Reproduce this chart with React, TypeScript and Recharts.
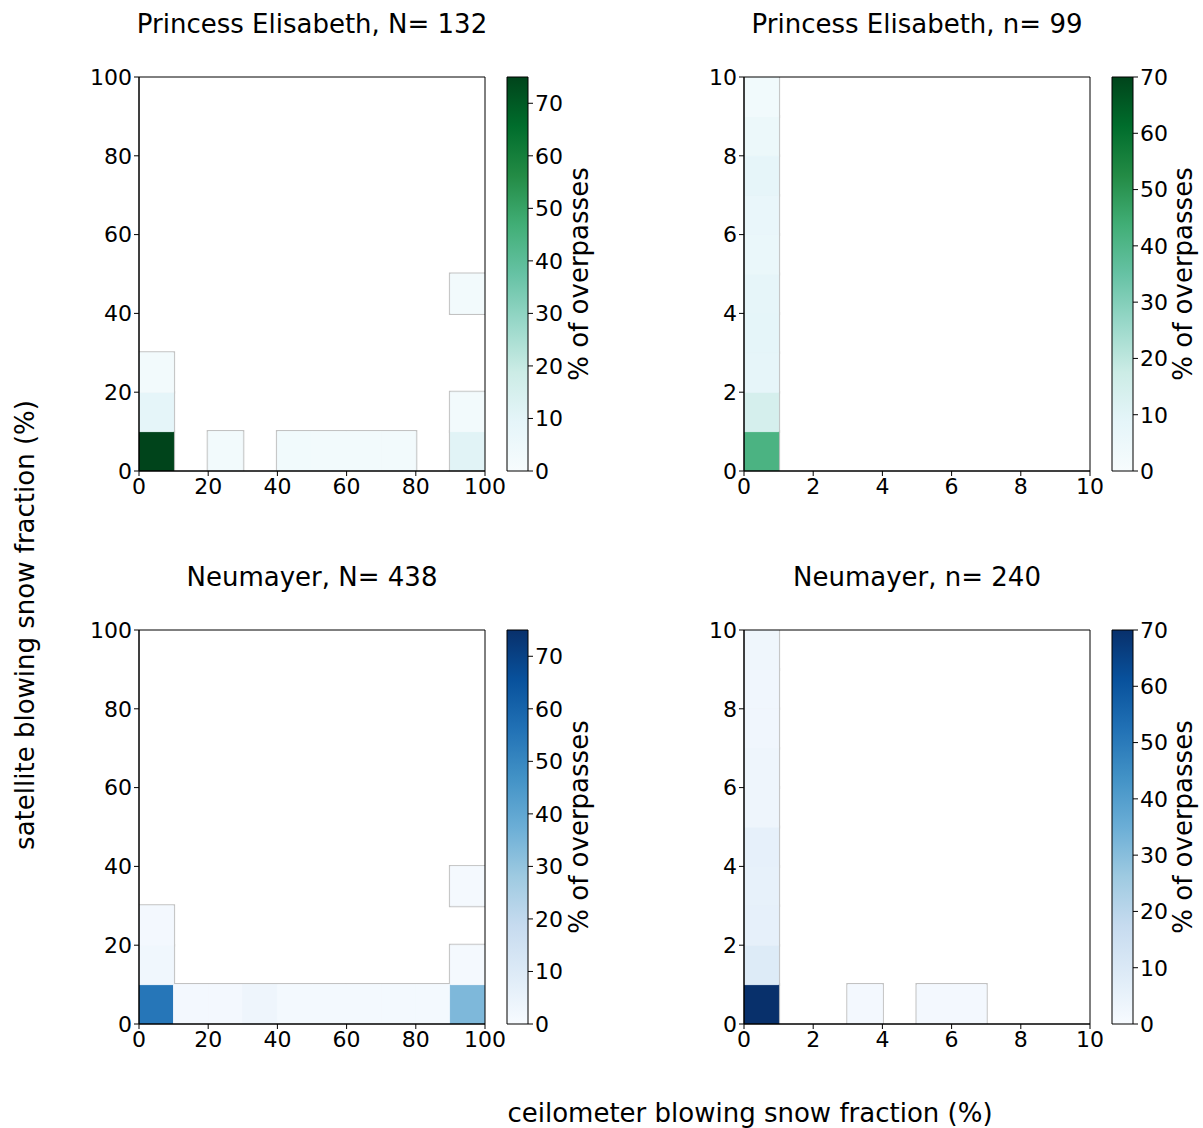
import React from 'react';
import { ComposedChart, XAxis, YAxis, ReferenceArea } from 'recharts';

// Colour ramps (ColorBrewer BuGn and Blues, 9 classes)
const BUGN = ['#f7fcfd', '#e5f5f9', '#ccece6', '#99d8c9', '#66c2a4', '#41ae76', '#238b45', '#006d2c', '#00441b'];
const BLUES = ['#f7fbff', '#deebf7', '#c6dbef', '#9ecae1', '#6baed6', '#4292c6', '#2171b5', '#08519c', '#08306b'];

// Axis ticks
const FULL_TICKS = [0, 20, 40, 60, 80, 100];
const ZOOM_TICKS = [0, 2, 4, 6, 8, 10];
const CBAR_TICKS = [0, 10, 20, 30, 40, 50, 60, 70];

// Histogram cells: lower-left corner (ceilometer, satellite) and % of overpasses
const peFullCells = [
  { ceil: 0, sat: 0, pct: 75.0 },
  { ceil: 0, sat: 10, pct: 9.4 },
  { ceil: 0, sat: 20, pct: 2.7 },
  { ceil: 20, sat: 0, pct: 2.8 },
  { ceil: 40, sat: 0, pct: 3.2 },
  { ceil: 50, sat: 0, pct: 2.8 },
  { ceil: 60, sat: 0, pct: 2.5 },
  { ceil: 70, sat: 0, pct: 2.5 },
  { ceil: 90, sat: 0, pct: 11.0 },
  { ceil: 90, sat: 10, pct: 2.8 },
  { ceil: 90, sat: 40, pct: 2.8 },
];

const peZoomCells = [
  { ceil: 0, sat: 0, pct: 41.4 },
  { ceil: 0, sat: 1, pct: 14.5 },
  { ceil: 0, sat: 2, pct: 8.5 },
  { ceil: 0, sat: 3, pct: 8.8 },
  { ceil: 0, sat: 4, pct: 8.5 },
  { ceil: 0, sat: 5, pct: 6.5 },
  { ceil: 0, sat: 6, pct: 7.0 },
  { ceil: 0, sat: 7, pct: 8.5 },
  { ceil: 0, sat: 8, pct: 5.5 },
  { ceil: 0, sat: 9, pct: 3.0 },
];

const neFullCells = [
  { ceil: 0, sat: 0, pct: 54.8 },
  { ceil: 0, sat: 10, pct: 2.6 },
  { ceil: 0, sat: 20, pct: 1.5 },
  { ceil: 10, sat: 0, pct: 1.5 },
  { ceil: 20, sat: 0, pct: 1.6 },
  { ceil: 30, sat: 0, pct: 3.4 },
  { ceil: 40, sat: 0, pct: 1.4 },
  { ceil: 50, sat: 0, pct: 1.4 },
  { ceil: 60, sat: 0, pct: 1.4 },
  { ceil: 70, sat: 0, pct: 1.4 },
  { ceil: 80, sat: 0, pct: 1.4 },
  { ceil: 90, sat: 0, pct: 34.0 },
  { ceil: 90, sat: 10, pct: 1.0 },
  { ceil: 90, sat: 30, pct: 1.0 },
];

const neZoomCells = [
  { ceil: 0, sat: 0, pct: 70.0 },
  { ceil: 0, sat: 1, pct: 9.0 },
  { ceil: 0, sat: 2, pct: 6.0 },
  { ceil: 0, sat: 3, pct: 5.5 },
  { ceil: 0, sat: 4, pct: 6.0 },
  { ceil: 0, sat: 5, pct: 3.2 },
  { ceil: 0, sat: 6, pct: 3.2 },
  { ceil: 0, sat: 7, pct: 2.5 },
  { ceil: 0, sat: 8, pct: 2.5 },
  { ceil: 0, sat: 9, pct: 2.8 },
  { ceil: 3, sat: 0, pct: 1.4 },
  { ceil: 5, sat: 0, pct: 1.4 },
  { ceil: 6, sat: 0, pct: 1.4 },
];

const TITLES = [
  'Princess Elisabeth, N= 132',
  'Princess Elisabeth, n= 99',
  'Neumayer, N= 438',
  'Neumayer, n= 240',
];

const X_LABEL = 'ceilometer blowing snow fraction (%)';
const Y_LABEL = 'satellite blowing snow fraction (%)';
const CBAR_LABEL = '% of overpasses';

const FONT = "'DejaVu Sans', sans-serif";

type Cell = { ceil: number; sat: number; pct: number };

function hexToRgb(h: string) {
  const n = parseInt(h.slice(1), 16);
  return [(n >> 16) & 255, (n >> 8) & 255, n & 255];
}

function colorAt(stops: string[], t: number) {
  const c = Math.max(0, Math.min(1, t));
  const pos = c * (stops.length - 1);
  const i = Math.min(stops.length - 2, Math.floor(pos));
  const f = pos - i;
  const a = hexToRgb(stops[i]);
  const b = hexToRgb(stops[i + 1]);
  const m = a.map((v, k) => Math.round(v + (b[k] - v) * f));
  return `rgb(${m[0]},${m[1]},${m[2]})`;
}

type PanelProps = {
  id: string;
  cells: Cell[];
  binWidth: number;
  axisMax: number;
  ticks: number[];
  vmax: number;
  ramp: string[];
  left: number;
  top: number;
};

const tickStyle = { fill: '#000', fontSize: 22, fontFamily: FONT };

function Panel({ id, cells, binWidth, axisMax, ticks, vmax, ramp, left, top }: PanelProps) {
  return (
    <>
      <div style={{ position: 'absolute', left, top }}>
        <ComposedChart width={460} height={470} data={cells} margin={{ top: 20, right: 25, left: 0, bottom: 30 }}>
          <XAxis
            type="number"
            dataKey="ceil"
            domain={[0, axisMax]}
            ticks={ticks}
            interval={0}
            height={26}
            tickSize={5}
            tickMargin={2}
            tick={tickStyle}
            tickLine={{ stroke: '#000' }}
            axisLine={{ stroke: '#000' }}
            allowDataOverflow
          />
          <YAxis
            type="number"
            dataKey="sat"
            domain={[0, axisMax]}
            ticks={ticks}
            interval={0}
            width={89}
            tickSize={5}
            tickMargin={2}
            tick={tickStyle}
            tickLine={{ stroke: '#000' }}
            axisLine={{ stroke: '#000' }}
            allowDataOverflow
          />
          {/* outline pass: the fill pass covers the inner half, so only outer borders of each block remain */}
          {cells.map((c, i) => (
            <ReferenceArea
              key={`o${i}`}
              x1={c.ceil}
              x2={c.ceil + binWidth}
              y1={c.sat}
              y2={c.sat + binWidth}
              fill="none"
              stroke="#c2c2c2"
              strokeWidth={3}
              ifOverflow="hidden"
            />
          ))}
          {cells.map((c, i) => {
            const col = colorAt(ramp, c.pct / vmax);
            return (
              <ReferenceArea
                key={`f${i}`}
                x1={c.ceil}
                x2={c.ceil + binWidth}
                y1={c.sat}
                y2={c.sat + binWidth}
                fill={col}
                fillOpacity={1}
                stroke={col}
                strokeWidth={1}
                ifOverflow="hidden"
              />
            );
          })}
          <ReferenceArea
            x1={0}
            x2={axisMax}
            y1={0}
            y2={axisMax}
            fill="none"
            stroke="#000"
            strokeWidth={1}
          />
        </ComposedChart>
      </div>
      <div style={{ position: 'absolute', left: left + 450, top }}>
        <ComposedChart width={100} height={470} data={[{ v: 0 }, { v: vmax }]} margin={{ top: 20, right: 12, left: 7, bottom: 56 }}>
          <defs>
            <linearGradient id={`grad-${id}`} x1="0" y1="1" x2="0" y2="0">
              {ramp.map((col, i) => (
                <stop key={i} offset={`${(i / (ramp.length - 1)) * 100}%`} stopColor={col} />
              ))}
            </linearGradient>
          </defs>
          <XAxis type="number" domain={[0, 1]} hide />
          <YAxis
            type="number"
            dataKey="v"
            orientation="right"
            domain={[0, vmax]}
            ticks={CBAR_TICKS}
            interval={0}
            width={60}
            tickSize={5}
            tickMargin={2}
            tick={tickStyle}
            tickLine={{ stroke: '#000' }}
            axisLine={false}
          />
          <ReferenceArea
            x1={0}
            x2={1}
            y1={0}
            y2={vmax}
            fill={`url(#grad-${id})`}
            fillOpacity={1}
            stroke="#000"
            strokeWidth={1}
          />
        </ComposedChart>
      </div>
    </>
  );
}

export default function App() {
  const textStyle = { fontFamily: FONT, fontSize: 26, fill: '#000' } as const;
  return (
    <div style={{ position: 'absolute', left: 0, top: 0, width: 1203, height: 1128, background: '#fff' }}>
      <Panel id="pe-full" cells={peFullCells} binWidth={10} axisMax={100} ticks={FULL_TICKS} vmax={75} ramp={BUGN} left={50} top={57} />
      <Panel id="pe-zoom" cells={peZoomCells} binWidth={1} axisMax={10} ticks={ZOOM_TICKS} vmax={70} ramp={BUGN} left={655} top={57} />
      <Panel id="ne-full" cells={neFullCells} binWidth={10} axisMax={100} ticks={FULL_TICKS} vmax={75} ramp={BLUES} left={50} top={610} />
      <Panel id="ne-zoom" cells={neZoomCells} binWidth={1} axisMax={10} ticks={ZOOM_TICKS} vmax={70} ramp={BLUES} left={655} top={610} />
      <svg width={1203} height={1128} style={{ position: 'absolute', left: 0, top: 0, pointerEvents: 'none' }}>
        <text x={312} y={33} textAnchor="middle" style={textStyle}>{TITLES[0]}</text>
        <text x={917} y={33} textAnchor="middle" style={textStyle}>{TITLES[1]}</text>
        <text x={312} y={586} textAnchor="middle" style={textStyle}>{TITLES[2]}</text>
        <text x={917} y={586} textAnchor="middle" style={textStyle}>{TITLES[3]}</text>
        <text x={750} y={1122} textAnchor="middle" style={textStyle}>{X_LABEL}</text>
        <text transform="translate(34,625) rotate(-90)" textAnchor="middle" style={textStyle}>{Y_LABEL}</text>
        <text transform="translate(588,274) rotate(-90)" textAnchor="middle" style={textStyle}>{CBAR_LABEL}</text>
        <text transform="translate(1192,274) rotate(-90)" textAnchor="middle" style={textStyle}>{CBAR_LABEL}</text>
        <text transform="translate(588,827) rotate(-90)" textAnchor="middle" style={textStyle}>{CBAR_LABEL}</text>
        <text transform="translate(1192,827) rotate(-90)" textAnchor="middle" style={textStyle}>{CBAR_LABEL}</text>
      </svg>
    </div>
  );
}
